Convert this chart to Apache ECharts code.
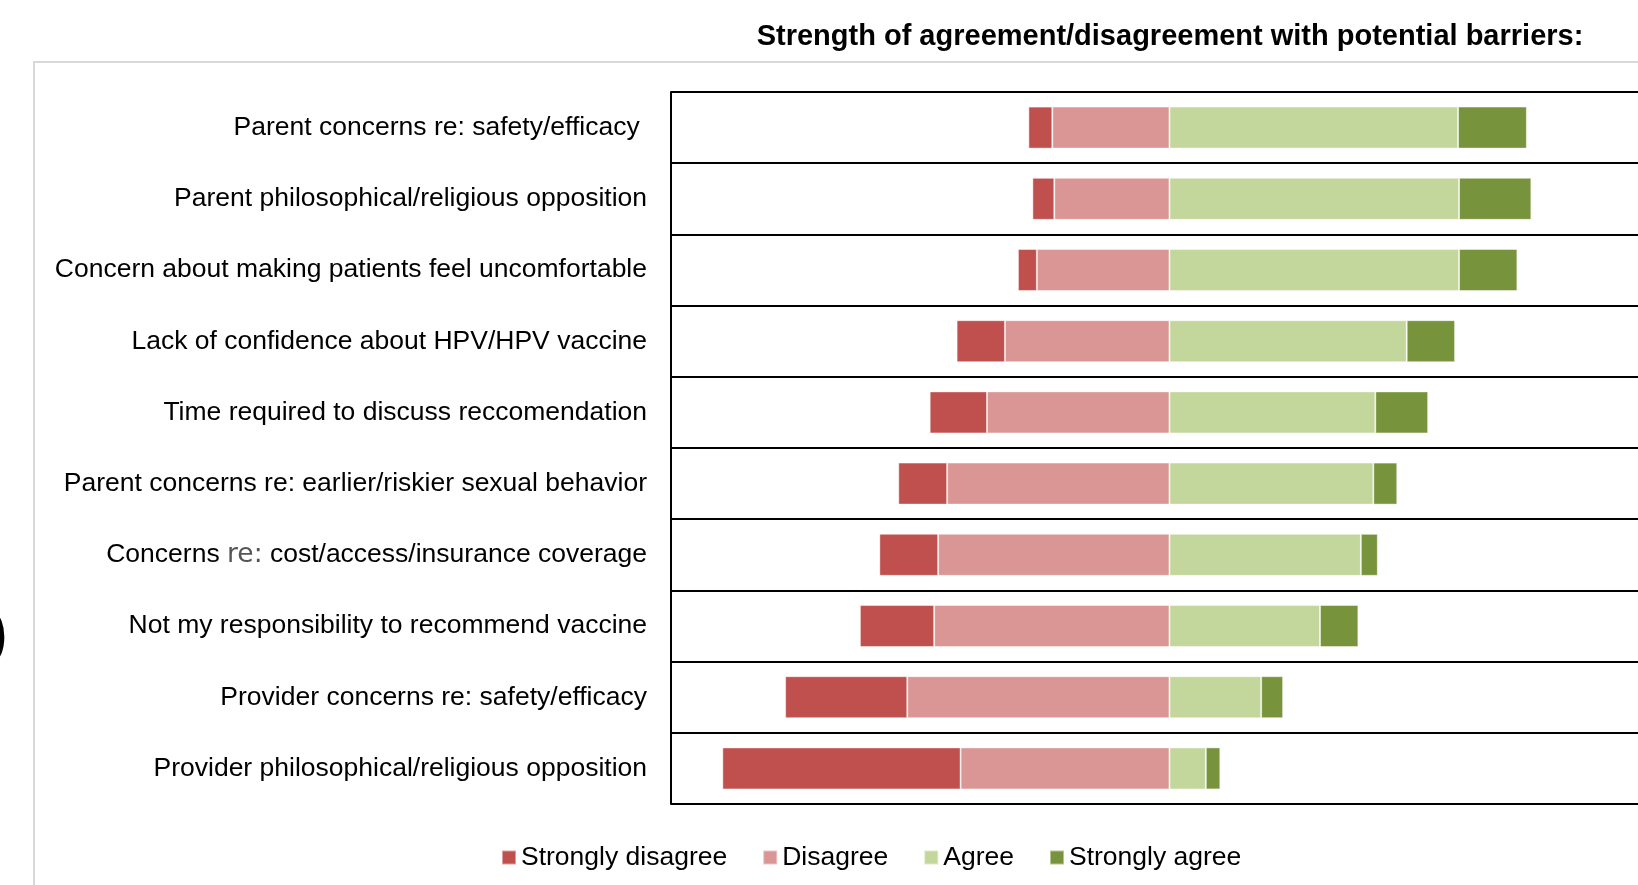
<!DOCTYPE html>
<html lang="en">
<head>
    <meta charset="UTF-8">
    <title>Strength of agreement/disagreement with potential barriers</title>
    <script src="https://cdn.jsdelivr.net/npm/echarts@6/dist/echarts.min.js"></script>
    <style>
        html, body { margin: 0; padding: 0; background: #fff; }
        #chart { width: 1638px; height: 885px; }
    </style>
</head>
<body>
<div id="chart"></div>
<script>
    // categories top to bottom
    var categories = [
        'Parent concerns re: safety/efficacy ',
        'Parent philosophical/religious opposition',
        'Concern about making patients feel uncomfortable',
        'Lack of confidence about HPV/HPV vaccine',
        'Time required to discuss reccomendation',
        'Parent concerns re: earlier/riskier sexual behavior',
        'Concerns re: cost/access/insurance coverage',
        'Not my responsibility to recommend vaccine',
        'Provider concerns re: safety/efficacy',
        'Provider philosophical/religious opposition'
    ];
    // percent of respondents
    var strongDisagree = [4.8, 4.4, 3.8, 9.7, 11.5, 9.8, 11.8, 14.9, 24.5, 47.8];
    var disagree       = [23.5, 23.1, 26.6, 33.0, 36.6, 44.6, 46.4, 47.2, 52.6, 41.9];
    var agree          = [57.9, 58.1, 58.1, 47.6, 41.3, 40.9, 38.4, 30.2, 18.4, 7.3];
    var strongAgree    = [13.8, 14.5, 11.7, 9.7, 10.6, 4.8, 3.4, 7.7, 4.4, 2.9];

    var FONT = "'Liberation Sans', Arial, sans-serif";

    var chart = echarts.init(document.getElementById('chart'));

    function neg(arr) {
        return arr.map(function (v) { return -v; });
    }

    function barSeries(name, data, color) {
        return {
            name: name,
            type: 'bar',
            stack: 'total',
            data: data,
            barWidth: 42,
            itemStyle: {
                color: color,
                borderColor: 'rgba(255,255,255,0.45)',
                borderWidth: 1
            },
            emphasis: { disabled: true }
        };
    }

    var option = {
        animation: false,
        textStyle: { fontFamily: FONT },
        graphic: [
            {
                type: 'rect',
                shape: { x: 34, y: 62, width: 1700, height: 900 },
                style: { fill: 'none', stroke: '#d9d9d9', lineWidth: 2 },
                silent: true
            },
            {
                type: 'text',
                x: 1170,
                y: 37,
                style: {
                    text: 'Strength of agreement/disagreement with potential barriers:',
                    font: 'bold 29px ' + FONT,
                    fill: '#000',
                    textAlign: 'center',
                    textVerticalAlign: 'middle'
                }
            },
            {
                // edge of a neighbouring slide element, cut off at the left
                type: 'text',
                x: -13,
                y: 636,
                style: {
                    text: ')',
                    font: '64px ' + FONT,
                    fill: '#000',
                    textVerticalAlign: 'middle'
                }
            }
        ],
        legend: {
            left: 496,
            top: 839,
            itemWidth: 14,
            itemHeight: 14,
            itemGap: 35,
            icon: 'rect',
            data: ['Strongly disagree', 'Disagree', 'Agree', 'Strongly agree'],
            textStyle: { fontSize: 26.5, color: '#000', fontFamily: FONT }
        },
        // plot runs past the right edge of the page, so the axis is cut at ~94%
        grid: {
            left: 671,
            top: 92,
            right: 0,
            height: 712
        },
        xAxis: {
            type: 'value',
            min: -100,
            max: 94,
            show: false
        },
        yAxis: {
            type: 'category',
            inverse: true,
            data: categories,
            axisLine: { show: true, onZero: false, lineStyle: { color: '#000', width: 2 } },
            axisTick: { show: false },
            splitLine: { show: true, lineStyle: { color: '#000', width: 2 } },
            axisLabel: {
                margin: 24,
                fontSize: 26.5,
                color: '#000',
                fontFamily: FONT,
                formatter: function (v) {
                    if (v.indexOf('Concerns re:') === 0) {
                        return 'Concerns {r|re:}' + v.slice(12);
                    }
                    return v;
                },
                rich: {
                    r: { fontSize: 26.5, color: '#555', fontFamily: "'DejaVu Sans', sans-serif" }
                }
            }
        },
        series: [
            barSeries('Disagree', neg(disagree), '#D99694'),
            barSeries('Strongly disagree', neg(strongDisagree), '#C0504D'),
            barSeries('Agree', agree, '#C3D69B'),
            barSeries('Strongly agree', strongAgree, '#77933C')
        ]
    };

    chart.setOption(option);
</script>
</body>
</html>
